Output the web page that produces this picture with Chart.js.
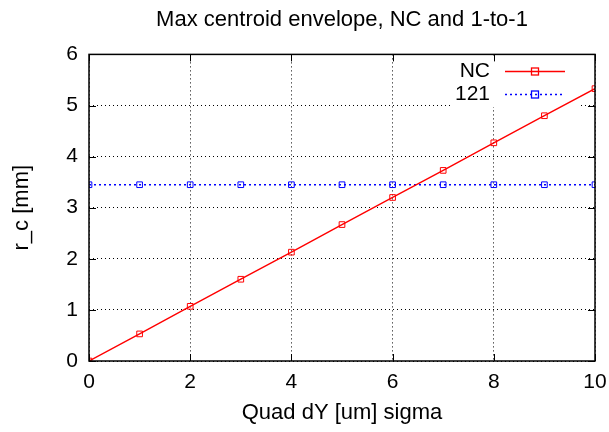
<!DOCTYPE html>
<html>
<head>
<meta charset="utf-8">
<script src="https://cdn.jsdelivr.net/npm/chart.js@4/dist/chart.umd.min.js"></script>
<style>
  html, body { margin: 0; padding: 0; background: #fff; }
  #wrap { width: 609px; height: 432px; }
</style>
</head>
<body>
<div id="wrap"><canvas id="c" width="609" height="432"></canvas></div>
<script>
const sigma = [0, 1, 2, 3, 4, 5, 6, 7, 8, 9, 10];
const ncValues = [0.0, 0.53, 1.07, 1.60, 2.13, 2.67, 3.20, 3.73, 4.27, 4.80, 5.33];
const oneToOneValues = [3.45, 3.45, 3.45, 3.45, 3.45, 3.45, 3.45, 3.45, 3.45, 3.45, 3.45];
const xTicks = [0, 2, 4, 6, 8, 10];
const yTicks = [0, 1, 2, 3, 4, 5, 6];

const FONT = 'Liberation Sans, Arial, sans-serif';

const toPoints = vals => sigma.map((x, i) => ({ x: x, y: vals[i] }));

// gnuplot-style inward ticks and opaque key
const gnuplotBits = {
  id: 'gnuplotBits',
  beforeDatasetsDraw(chart) {
    const { ctx } = chart;
    ctx.save();
    ctx.fillStyle = '#fff';
    ctx.fillRect(451, 57, 127, 50);
    ctx.restore();
  },
  afterDraw(chart) {
    const { ctx, chartArea: a, scales } = chart;
    ctx.save();
    ctx.strokeStyle = '#000';
    ctx.lineWidth = 1;
    xTicks.forEach(v => {
      const px = Math.round(scales.x.getPixelForValue(v)) + 0.5;
      ctx.beginPath();
      ctx.moveTo(px, a.bottom); ctx.lineTo(px, a.bottom - 7);
      ctx.moveTo(px, a.top); ctx.lineTo(px, a.top + 7);
      ctx.stroke();
    });
    yTicks.forEach(v => {
      const py = Math.round(scales.y.getPixelForValue(v)) + 0.5;
      ctx.beginPath();
      ctx.moveTo(a.left, py); ctx.lineTo(a.left + 7, py);
      ctx.moveTo(a.right, py); ctx.lineTo(a.right - 7, py);
      ctx.stroke();
    });
    // border
    ctx.lineWidth = 1.5;
    ctx.strokeRect(a.left, a.top, a.right - a.left, a.bottom - a.top);

    // key
    const items = [
      { label: 'NC', color: '#ff0000', dash: [], y: 71 },
      { label: '121', color: '#0000ff', dash: [2, 3], y: 94 }
    ];
    ctx.font = '21px ' + FONT;
    ctx.textAlign = 'right';
    ctx.textBaseline = 'middle';
    items.forEach(it => {
      ctx.fillStyle = '#000';
      ctx.fillText(it.label, 490, it.y);
      ctx.strokeStyle = it.color;
      ctx.lineWidth = 1.3;
      ctx.setLineDash(it.dash);
      ctx.beginPath();
      ctx.moveTo(505, it.y + 0.5); ctx.lineTo(565, it.y + 0.5);
      ctx.stroke();
      ctx.setLineDash([]);
      ctx.strokeRect(531.5, it.y - 3, 7, 7);
    });
    ctx.restore();
  }
};

new Chart(document.getElementById('c'), {
  type: 'line',
  data: {
    datasets: [
      {
        label: 'NC',
        data: toPoints(ncValues),
        borderColor: '#ff0000',
        backgroundColor: 'transparent',
        borderWidth: 1.4,
        pointStyle: 'rect',
        pointRadius: 4,
        pointBorderWidth: 1,
        pointBorderColor: '#ff0000',
        pointBackgroundColor: 'transparent',
        tension: 0
      },
      {
        label: '121',
        data: toPoints(oneToOneValues),
        borderColor: '#0000ff',
        backgroundColor: 'transparent',
        borderWidth: 1.4,
        borderDash: [2, 3],
        pointStyle: 'rect',
        pointRadius: 4,
        pointBorderWidth: 1,
        pointBorderColor: '#0000ff',
        pointBackgroundColor: 'transparent',
        tension: 0
      }
    ]
  },
  options: {
    responsive: false,
    animation: false,
    layout: { padding: { left: 0, right: 14, top: 0, bottom: 0 } },
    plugins: {
      legend: { display: false },
      tooltip: { enabled: false },
      title: {
        display: true,
        text: 'Max centroid envelope, NC and 1-to-1',
        color: '#000',
        fullSize: false,
        font: { family: FONT, size: 22, weight: 'normal' },
        padding: { top: 7, bottom: 21 }
      }
    },
    scales: {
      x: {
        type: 'linear',
        min: 0,
        max: 10,
        afterBuildTicks: s => { s.ticks = xTicks.map(v => ({ value: v })); },
        afterFit: s => { s.height = 71; s.paddingLeft = 0; s.paddingRight = 0; },
        grid: { color: '#000', lineWidth: 1, drawTicks: false },
        border: { display: false, dash: [1, 3] },
        ticks: { color: '#000', padding: 9, font: { family: FONT, size: 21 } },
        title: {
          display: true,
          text: 'Quad dY [um] sigma',
          color: '#000',
          font: { family: FONT, size: 22 },
          padding: { top: 0, bottom: 6 }
        }
      },
      y: {
        min: 0,
        max: 6,
        afterBuildTicks: s => { s.ticks = yTicks.map(v => ({ value: v })); },
        afterFit: s => { s.width = 89; },
        grid: { color: '#000', lineWidth: 1, drawTicks: false },
        border: { display: false, dash: [1, 3] },
        ticks: { color: '#000', padding: 11, font: { family: FONT, size: 21 } },
        title: {
          display: true,
          text: 'r_c [mm]',
          color: '#000',
          font: { family: FONT, size: 22 },
          padding: { top: 9, bottom: 0 }
        }
      }
    }
  },
  plugins: [gnuplotBits]
});
</script>
</body>
</html>
